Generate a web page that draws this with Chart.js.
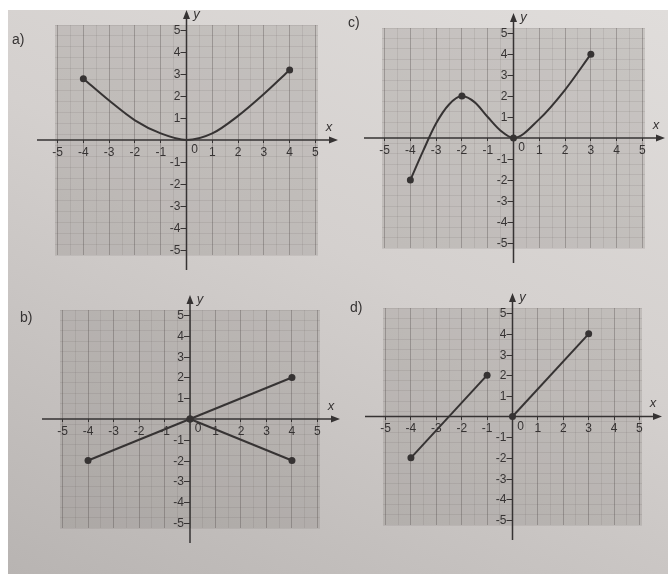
<!DOCTYPE html>
<html>
<head>
<meta charset="utf-8">
<script src="https://cdn.jsdelivr.net/npm/chart.js@4.4.1/dist/chart.umd.min.js"></script>
<style>
  html, body { margin: 0; padding: 0; background: #fff; overflow: hidden; }
  #page { position: absolute; left: 8px; top: 10px; width: 660px; height: 564px;
          background: linear-gradient(205deg, #e0dddb 0%, #d4d0ce 45%, #b8b4b2 100%); }
  canvas { position: absolute; }
</style>
</head>
<body>
<div id="page"></div>
<canvas id="chartA" width="340" height="280" style="left:0;top:0"></canvas>
<canvas id="chartC" width="328" height="280" style="left:340px;top:0"></canvas>
<canvas id="chartB" width="340" height="294" style="left:0;top:280px"></canvas>
<canvas id="chartD" width="328" height="294" style="left:340px;top:280px"></canvas>
<script>
(function(){
    // tick labels shown on the axes
    const xTickLabels = [-5, -4, -3, -2, -1, 1, 2, 3, 4, 5];
    const yTickLabels = [-5, -4, -3, -2, -1, 1, 2, 3, 4, 5];

    // a) curve
    const curveAX = [-4, -3, -2, -1, 0, 1, 2, 3, 4];
    const curveAY = [2.8, 1.8, 0.9, 0.3, 0, 0.3, 1.1, 2.1, 3.2];
    const dotsA = [-4, 4];

    // c) curve
    const curveCX = [-4, -3.5, -3, -2.5, -2, -1.5, -1, -0.5, 0, 1, 2, 3];
    const curveCY = [-2, -0.6, 0.7, 1.6, 2, 1.7, 1.0, 0.35, 0, 0.9, 2.3, 4];
    const dotsC = [-4, -2, 0, 3];

    // b) two segments
    const lineB1X = [-4, 0, 4];
    const lineB1Y = [-2, 0, 2];
    const lineB2X = [0, 4];
    const lineB2Y = [0, -2];

    // d) two segments
    const lineD1X = [-4, -1];
    const lineD1Y = [-2, 2];
    const lineD2X = [0, 3];
    const lineD2Y = [0, 4];

    const INK = '#363333';
    const FONT = "'Liberation Sans', Arial, sans-serif";

    function pts(xs, ys) { return xs.map((x, i) => ({ x: x, y: ys[i] })); }

    function series(xs, ys, dots, curved) {
        return {
            data: pts(xs, ys),
            showLine: true,
            borderColor: INK,
            borderWidth: 2,
            backgroundColor: INK,
            cubicInterpolationMode: curved ? 'monotone' : 'default',
            tension: 0,
            pointRadius: (ctx) => (!dots || dots.includes(xs[ctx.dataIndex])) ? 3.5 : 0,
            pointBorderWidth: 0,
            pointBackgroundColor: INK
        };
    }

    // gray sheet, axes with arrows, y labels, letters
    const axesDeco = {
        id: 'axesDeco',
        beforeDraw(chart, args, opts) {
            const a = chart.chartArea, c = chart.ctx;
            c.save();
            c.fillStyle = 'rgba(110,104,102,0.2)';
            c.fillRect(a.left, a.top, a.right - a.left, a.bottom - a.top);
            c.restore();
        },
        beforeDatasetsDraw(chart, args, opts) {
            const a = chart.chartArea, c = chart.ctx;
            const ys = chart.scales.y;
            const ox = chart.scales.x.getPixelForValue(0);
            const oy = ys.getPixelForValue(0);
            const l = a.left - 18, r = a.right + 20, t = a.top - 15, b = a.bottom + 15;
            c.save();
            c.strokeStyle = INK; c.fillStyle = INK; c.lineWidth = 1.5;
            c.beginPath();
            c.moveTo(l, oy); c.lineTo(r - 4, oy);
            c.moveTo(ox, b); c.lineTo(ox, t + 4);
            c.stroke();
            c.beginPath();
            c.moveTo(r, oy); c.lineTo(r - 9, oy - 3.5); c.lineTo(r - 9, oy + 3.5); c.closePath();
            c.moveTo(ox, t); c.lineTo(ox - 3.5, t + 9); c.lineTo(ox + 3.5, t + 9); c.closePath();
            c.fill();

            // y ticks and labels next to the y axis
            c.lineWidth = 1;
            c.font = '12px ' + FONT;
            c.textAlign = 'right'; c.textBaseline = 'middle';
            yTickLabels.forEach(v => {
                const py = Math.round(ys.getPixelForValue(v)) + 0.5;
                c.beginPath(); c.moveTo(ox - 6, py); c.lineTo(ox, py); c.stroke();
                c.fillText(String(v), ox - 6, py + 0.5);
            });

            c.textAlign = 'center';
            c.fillText('0', ox + 8, oy + 10);
            c.font = 'italic 13px ' + FONT;
            c.fillText('x', r - 9, oy - 13);
            c.fillText('y', ox + 10, t + 4);
            c.font = '14px ' + FONT;
            c.textAlign = 'left';
            c.fillText(opts.letter, opts.lx, opts.ly);
            c.restore();
        }
    };

    const gridColor = (ctx) => Number.isInteger(ctx.tick.value) ? 'rgba(80,75,74,0.36)' : 'rgba(80,75,74,0.11)';

    function makeChart(id, datasets, letter, lx, ly, pad) {
        const el = document.getElementById(id);
        return new Chart(el, {
            type: 'scatter',
            data: { datasets: datasets },
            plugins: [axesDeco],
            options: {
                responsive: false,
                animation: false,
                layout: { padding: pad },
                plugins: {
                    legend: { display: false },
                    tooltip: { enabled: false },
                    axesDeco: { letter: letter, lx: lx, ly: ly }
                },
                scales: {
                    x: {
                        type: 'linear', min: -5.1, max: 5.1,
                        position: { y: 0 },
                        border: { display: false },
                        grid: {
                            color: gridColor,
                            tickColor: (ctx) => xTickLabels.includes(ctx.tick.value) ? INK : 'rgba(0,0,0,0)',
                            tickLength: 3,
                            lineWidth: 1
                        },
                        ticks: {
                            stepSize: 0.5, includeBounds: false, autoSkip: false, maxRotation: 0,
                            padding: 2, color: INK, font: { family: FONT, size: 12 },
                            callback: (v) => xTickLabels.includes(v) ? String(v) : ''
                        }
                    },
                    y: {
                        type: 'linear', min: -5.25, max: 5.25,
                        position: 'left',
                        border: { display: false },
                        grid: { color: gridColor, drawTicks: false, lineWidth: 1 },
                        ticks: { stepSize: 0.5, includeBounds: false, display: false }
                    }
                }
            }
        });
    }

    try {
        makeChart('chartA', [series(curveAX, curveAY, dotsA, true)], 'a)', 12, 40,
            { left: 55, right: 22, top: 25, bottom: 25 });
        makeChart('chartC', [series(curveCX, curveCY, dotsC, true)], 'c)', 8, 23,
            { left: 42, right: 23, top: 28, bottom: 32 });
        makeChart('chartB', [series(lineB1X, lineB1Y, null, false), series(lineB2X, lineB2Y, null, false)], 'b)', 20, 38,
            { left: 60, right: 20, top: 30, bottom: 46 });
        makeChart('chartD', [series(lineD1X, lineD1Y, null, false), series(lineD2X, lineD2Y, null, false)], 'd)', 10, 28,
            { left: 43, right: 26, top: 28, bottom: 49 });
    } catch (err) {
        console.error('chart init error', err);
    }
})();
</script>
</body>
</html>
